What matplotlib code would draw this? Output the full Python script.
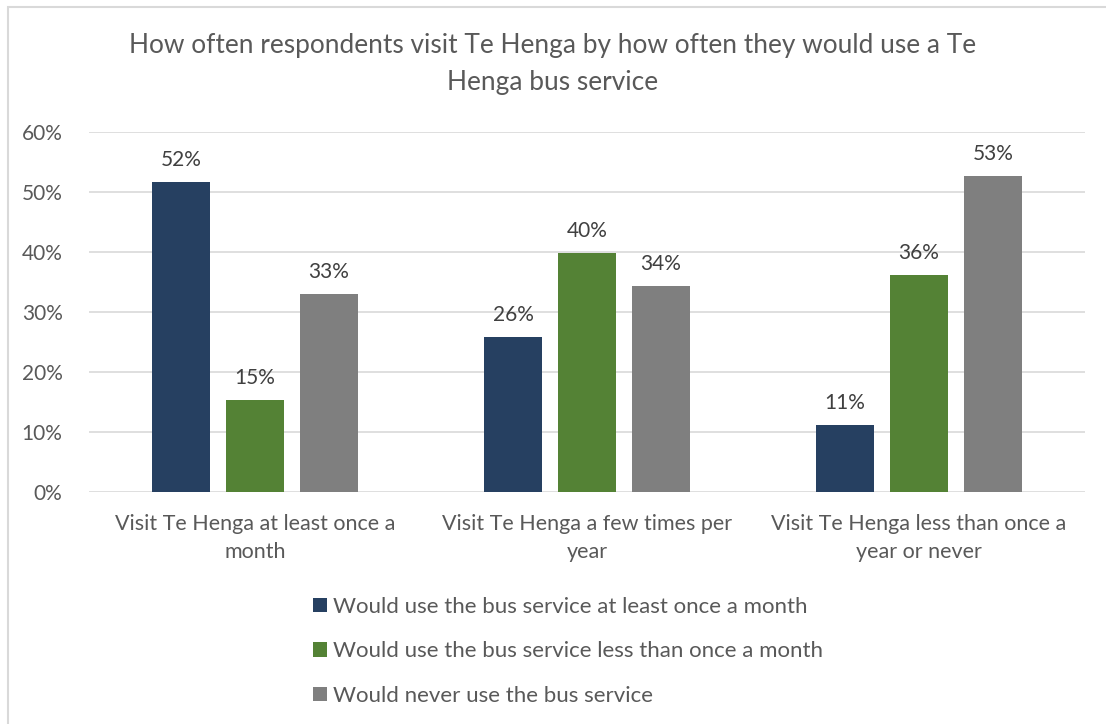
import matplotlib
matplotlib.use("Agg")
import matplotlib.pyplot as plt
from matplotlib.patches import Rectangle, Patch
from matplotlib.ticker import FuncFormatter
import numpy as np

plt.rcParams['font.family'] = ['Lato', 'DejaVu Sans']

title = "How often respondents visit Te Henga by how often they would use a Te\nHenga bus service"
categories = [
    "Visit Te Henga at least once a\nmonth",
    "Visit Te Henga a few times per\nyear",
    "Visit Te Henga less than once a\nyear or never",
]
series_names = [
    "Would use the bus service at least once a month",
    "Would use the bus service less than once a month",
    "Would never use the bus service",
]
# one list per series, across the three visit-frequency categories
monthly_use = [0.517, 0.258, 0.112]
less_than_monthly_use = [0.153, 0.398, 0.362]
never_use = [0.330, 0.343, 0.527]
series_values = [monthly_use, less_than_monthly_use, never_use]
colors = ["#264061", "#548235", "#7f7f7f"]
y_ticks = [0.0, 0.1, 0.2, 0.3, 0.4, 0.5, 0.6]

fig = plt.figure(figsize=(11.06, 7.24), dpi=100)
fig.patch.set_facecolor("white")

# light outline of the chart frame
fig.patches.append(Rectangle((8 / 1106, -0.05), 1.2, (724 - 7) / 724 + 0.05,
                             transform=fig.transFigure, fill=False,
                             edgecolor="#d9d9d9", linewidth=1.5, zorder=0))

ax = fig.add_axes([89 / 1106, (724 - 492) / 724, (1085 - 89) / 1106, 360 / 724])

x = np.arange(len(categories))
width = 0.175
step = 0.223
text_color = "#595959"
for i, (vals, col, name) in enumerate(zip(series_values, colors, series_names)):
    pos = x + (i - 1) * step
    bars = ax.bar(pos, vals, width=width, color=col, label=name, zorder=3)
    for b, v in zip(bars, vals):
        ax.text(b.get_x() + b.get_width() / 2, v + 0.020, f"{v * 100:.0f}%",
                ha="center", va="bottom", fontsize=15, color="#404040")

ax.set_xlim(-0.5, 2.5)
ax.set_ylim(0, 0.6)
ax.set_yticks(y_ticks)
ax.yaxis.set_major_formatter(FuncFormatter(lambda v, _: f"{v * 100:.0f}%"))
ax.grid(axis="y", color="#d9d9d9", linewidth=1.2, zorder=0)
for s in ax.spines.values():
    s.set_visible(False)
ax.tick_params(axis="both", length=0, labelsize=15, colors=text_color)
ax.tick_params(axis="y", pad=19)
ax.tick_params(axis="x", pad=16)
ax.set_xticks(x)
ax.set_xticklabels(categories, fontsize=15.5, color=text_color, linespacing=1.5)

fig.text(0.5, 1 - 64 / 724, title, ha="center", va="center",
         fontsize=18.9, color=text_color, linespacing=1.58)

handles = [Patch(facecolor=c, edgecolor="none") for c in colors]
fig.legend(handles, series_names, loc="upper left",
           bbox_to_anchor=(293 / 1106, 1 - 577 / 724), frameon=False,
           fontsize=16, labelcolor=text_color, handlelength=0.63,
           handleheight=0.63, handletextpad=0.27, labelspacing=1.1)

fig.savefig("out.png", dpi=100)
